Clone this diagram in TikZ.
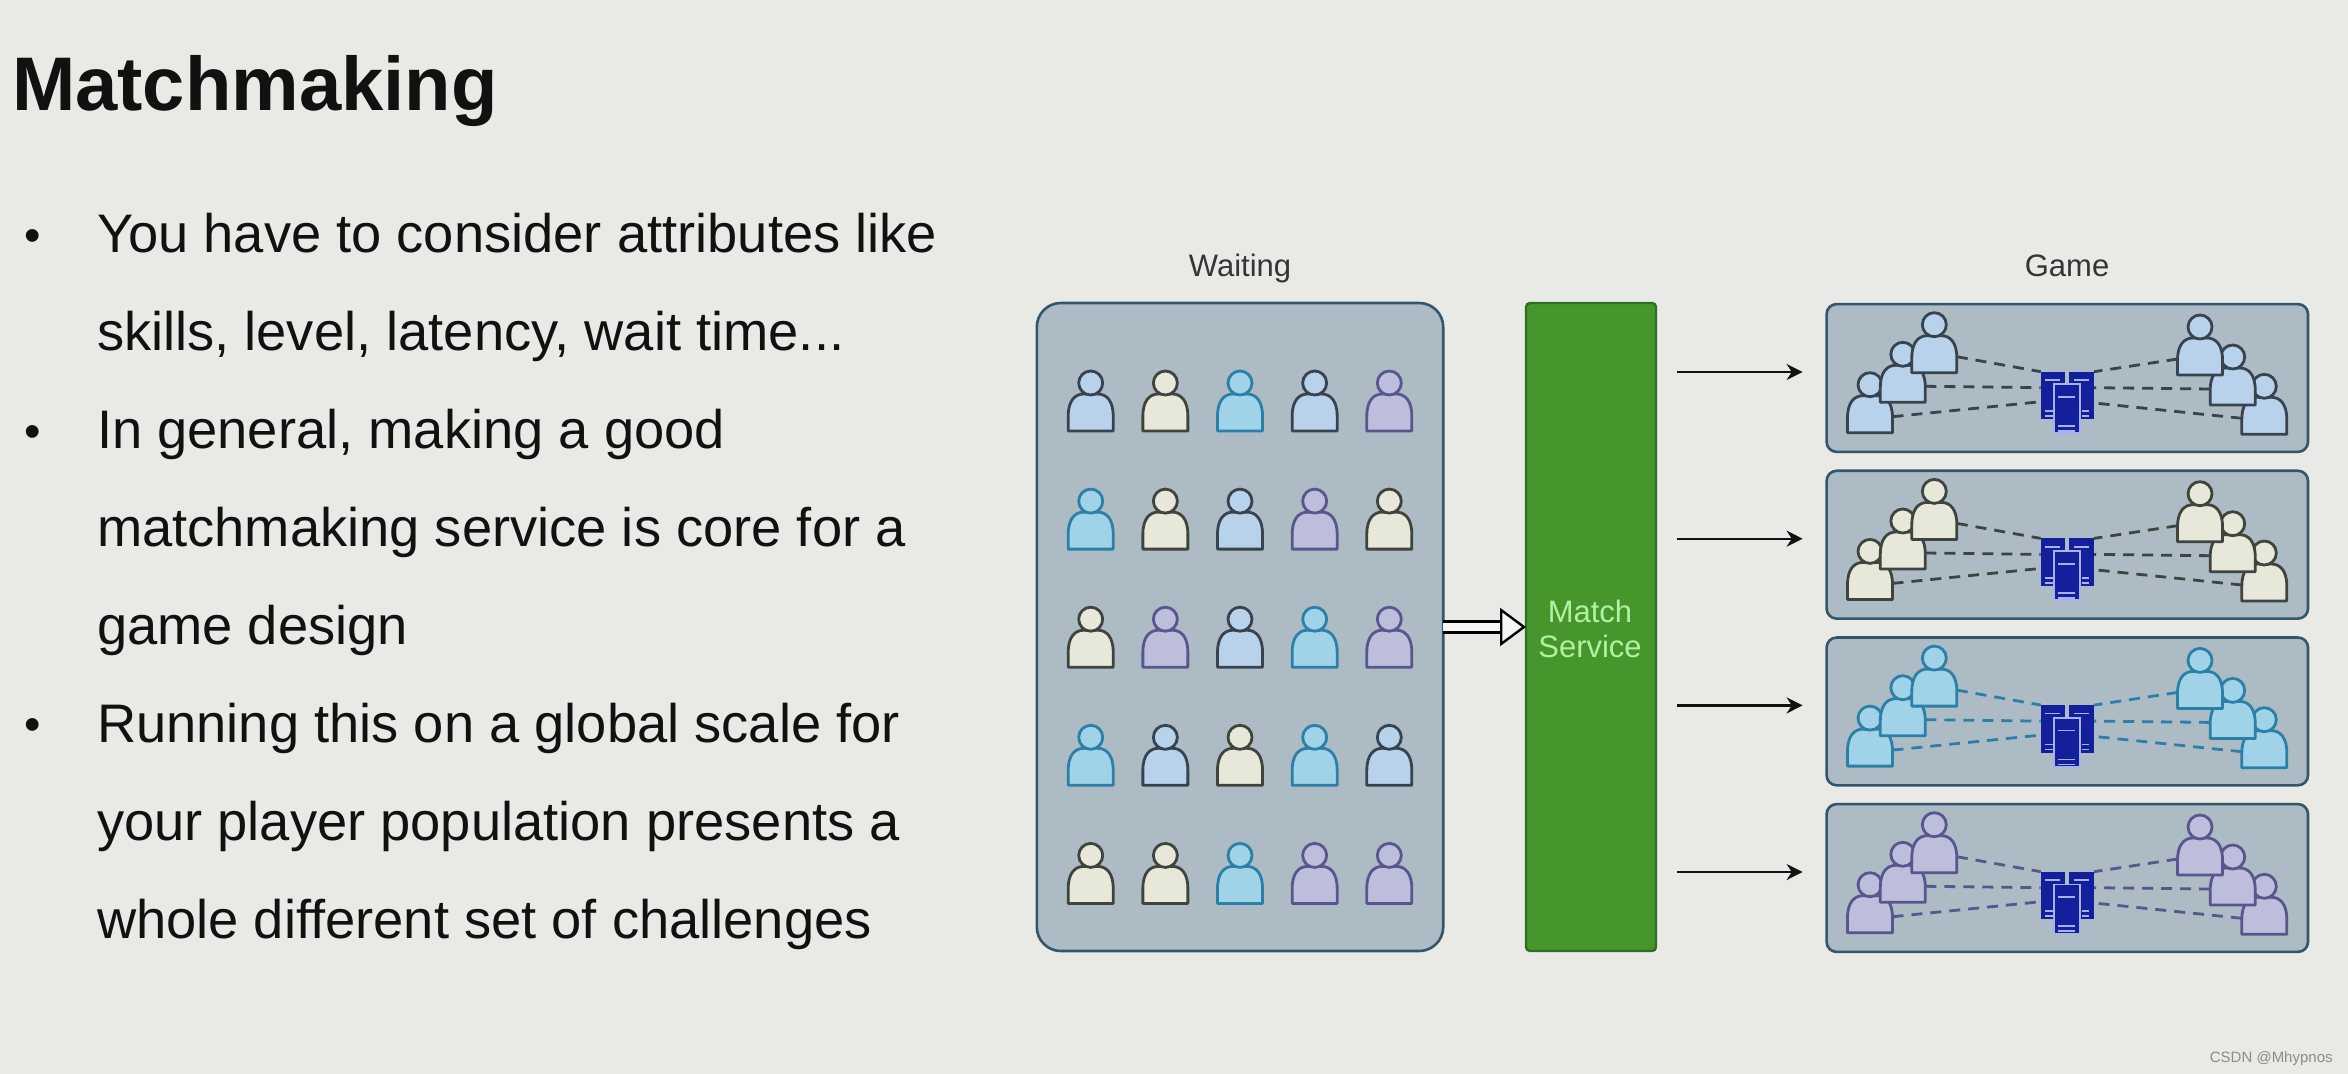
\documentclass[tikz,border=0pt]{standalone}
\usepackage{fontspec}
\setmainfont{Liberation Sans}
\usetikzlibrary{arrows.meta}
\definecolor{bg}{HTML}{E9EAE5}
\definecolor{panel}{HTML}{ADBBC4}
\definecolor{panell}{HTML}{34566C}
\definecolor{pblue}{HTML}{B9D2EC}\definecolor{pbluel}{HTML}{37434E}
\definecolor{pcream}{HTML}{E8E8DA}\definecolor{pcreaml}{HTML}{40443F}
\definecolor{pcyan}{HTML}{A0D3E8}\definecolor{pcyanl}{HTML}{2C7FA6}
\definecolor{ppurple}{HTML}{BDBEDC}\definecolor{ppurplel}{HTML}{58568C}
\definecolor{green1}{HTML}{46962B}\definecolor{green2}{HTML}{2F6E25}
\definecolor{srv}{HTML}{141F9C}\definecolor{srvl}{HTML}{A9B0EE}
\definecolor{txt}{HTML}{111111}
\definecolor{mtxt}{HTML}{B4F0A4}
\newcommand{\pxfont}[1]{\fontsize{\the\dimexpr #1pt/2\relax}{\the\dimexpr #1pt/2\relax}\selectfont}
\tikzset{
  x=0.5pt,y=-0.5pt,
  pics/person/.style={code={
    \coordinate (-w) at (-22.5,-16);
    \coordinate (-e) at (22.5,-16);
    \draw[line width=1.4pt,fill=#1,draw=#1l,line join=round]
      (-22.5,0) -- (-22.5,-15) .. controls (-22.5,-30) and (-16,-37) .. (-7,-37)
      -- (7,-37) .. controls (16,-37) and (22.5,-30) .. (22.5,-15) -- (22.5,0) -- cycle;
    \draw[line width=1.4pt,fill=#1,draw=#1l] (0,-48) circle (12);
  }},
  pics/server/.style={code={
    \coordinate (-a) at (-26.6,-6.3);
    \coordinate (-b) at (-26.6,9.7);
    \coordinate (-c) at (-26.6,23.7);
    \coordinate (-d) at (26.7,-6.3);
    \coordinate (-f) at (26.7,9.7);
    \coordinate (-g) at (26.7,25);
    \fill[srv] (-26.6,-6.3) rectangle (-2.3,41.3);
    \fill[srv] (2,-6.3) rectangle (26.7,41.3);
    \draw[srvl,line width=.8pt] (-22,2) -- (-7,2) (-22,33) -- (-13,33) (-22,38) -- (-13,38)
      (7,2) -- (22,2) (15,33) -- (22,33) (15,38) -- (22,38);
    \draw[srvl,line width=.8pt,fill=srv] (-13.3,55.3) -- (-13.3,6.3) -- (12.7,6.3) -- (12.7,55.3) -- cycle;
    \draw[srvl,line width=.9pt] (-9,19) -- (8,19) (-9,48) -- (8,48) (-9,53) -- (8,53);
  }},
  panelbox/.style={draw=panell,fill=panel,line width=1.3pt,inner sep=0pt,outer sep=0pt},
  flow/.style={draw=txt,line width=1.2pt,-{Stealth[length=8pt,width=8pt]}},
  link/.style={line width=1.4pt,dash pattern=on 5.5pt off 4pt},
  body/.style={inner sep=0pt,outer sep=0pt,anchor=base west,text=txt,font=\pxfont{54.3}},
  label/.style={inner sep=0pt,outer sep=0pt,anchor=base,text=txt!85,font=\pxfont{31}},
}
\begin{document}
\begin{tikzpicture}
\useasboundingbox (0,0) rectangle (2348,1074);
\fill[bg] (0,0) rectangle (2348,1074);
% Text
\node[inner sep=0pt,outer sep=0pt,anchor=base west,text=txt,font=\pxfont{76}\bfseries] (title) at (12,111) {Matchmaking};
\foreach \ty/\tn in {253/You have to consider attributes like,351/{skills, level, latency, wait time...},449/{In general, making a good},546/matchmaking service is core for a,644/game design,742/Running this on a global scale for,840/your player population presents a,938/whole different set of challenges}
  \node[body] at (97,\ty) {\tn};
\foreach \ty in {251.5,447.5,740.5}
  \node[body,font=\pxfont{47}] at (25,\ty) {•};
% Waiting panel
\node[label] (lwait) at (1240,277) {Waiting};
\node[panelbox,rounded corners=12pt,minimum width=203.2pt,minimum height=324pt] (wait) at (1240,627) {};
\foreach \c [count=\k from 0] in {pblue,pcream,pcyan,pblue,ppurple,
  pcyan,pcream,pblue,ppurple,pcream,
  pcream,ppurple,pblue,pcyan,ppurple,
  pcyan,pblue,pcream,pcyan,pblue,
  pcream,pcream,pcyan,ppurple,ppurple}{
  \pgfmathsetmacro{\cx}{1090.7+74.65*int(mod(\k,5))}
  \pgfmathsetmacro{\cy}{431+118.1*int(\k/5)}
  \pic (w\k) at (\cx,\cy) {person=\c};
}
% Match service
\node[draw=green2,fill=green1,line width=1.2pt,inner sep=0pt,outer sep=0pt,rounded corners=2pt,minimum width=65pt,minimum height=324pt] (match) at (1591,627) {};
\node[inner sep=0pt,anchor=base,text=mtxt,font=\pxfont{31}] (mt1) at (1590,622) {Match};
\node[inner sep=0pt,anchor=base,text=mtxt,font=\pxfont{31}] (mt2) at (1590,657) {Service};
\draw[double=white!60!bg,double distance=4.2pt,line width=1.2pt,
  -{Triangle[open,fill=white!60!bg,length=13pt,width=19pt,line width=1.2pt]}] (wait.east) -- (match.west);
% Games
\node[label] (lgame) at (2067,277) {Game};
\foreach \i/\gy/\c/\dc in {1/378/pblue/pbluel,2/544.7/pcream/pcreaml,3/711.4/pcyan/pcyanl,4/878/ppurple/ppurplel}{
  \node[panelbox,rounded corners=5pt,minimum width=240.7pt,minimum height=73.9pt] (g\i) at (2067.3,\gy) {};
  \coordinate (a\i) at ([yshift=3pt]g\i.west);
  \draw[flow,shorten <=10.5pt,shorten >=12pt] (match.east |- a\i) -- (a\i);
  \begin{scope}[shift={(g\i.center)}]
    \pic (g\i sv) at (0,0) {server};
    \pic (g\i pa) at (-197.3,54.7) {person=\c};
    \pic (g\i pb) at (-164.5,24.3) {person=\c};
    \pic (g\i pc) at (-133,-5.3) {person=\c};
    \pic (g\i pf) at (197,56.3) {person=\c};
    \pic (g\i pe) at (165.4,27) {person=\c};
    \pic (g\i pd) at (132.7,-3) {person=\c};
  \end{scope}
  \draw[link,draw=\dc] (g\i pa-e) -- (g\i sv-c);
  \draw[link,draw=\dc] (g\i pb-e) -- (g\i sv-b);
  \draw[link,draw=\dc] (g\i pc-e) -- (g\i sv-a);
  \draw[link,draw=\dc] (g\i pd-w) -- (g\i sv-d);
  \draw[link,draw=\dc] (g\i pe-w) -- (g\i sv-f);
  \draw[link,draw=\dc] (g\i pf-w) -- (g\i sv-g);
}
\node[inner sep=0pt,anchor=base east,text=black!45,font=\pxfont{15}] (csdn) at (2333,1062) {CSDN @Mhypnos};
\end{tikzpicture}
\end{document}
